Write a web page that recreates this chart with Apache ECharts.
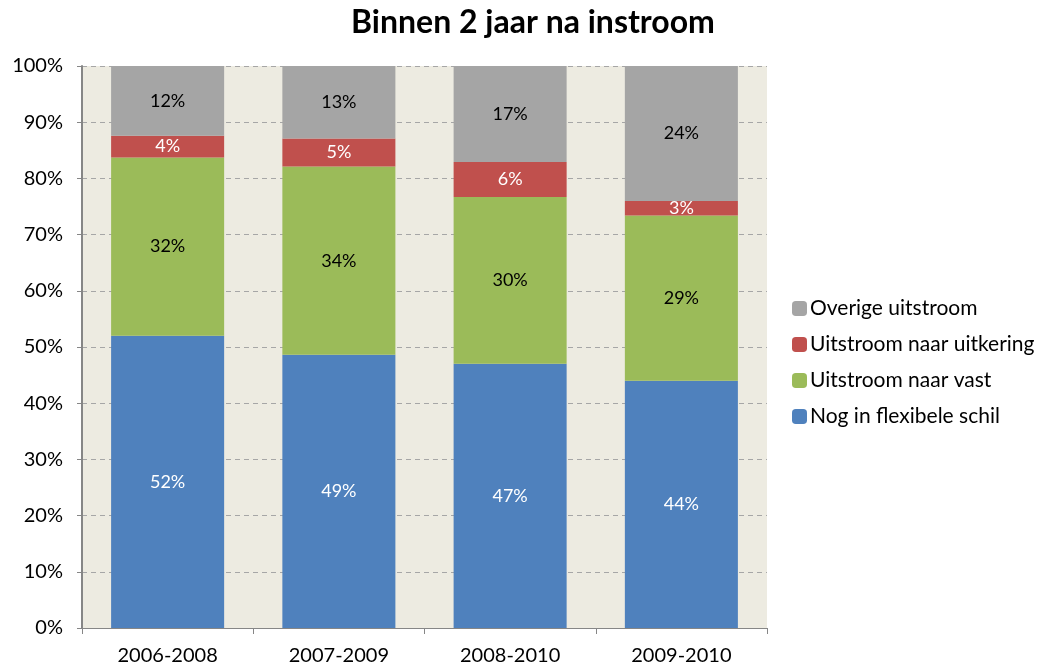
<!DOCTYPE html>
<html>
<head>
<meta charset="utf-8">
<script src="https://cdn.jsdelivr.net/npm/echarts@6/dist/echarts.min.js"></script>
<style>
  html, body { margin: 0; padding: 0; background: #fff; }
  #chart { width: 1042px; height: 668px; }
</style>
</head>
<body>
<div id="chart"></div>
<script>
var categories = ["2006-2008", "2007-2009", "2008-2010", "2009-2010"];
var flexibeleSchil = [52.0, 48.6, 47.0, 44.0];
var naarVast = [31.7, 33.5, 29.7, 29.4];
var naarUitkering = [3.9, 5.0, 6.2, 2.6];
var overige = [12.4, 12.9, 17.1, 24.0];
var yTicks = [0, 10, 20, 30, 40, 50, 60, 70, 80, 90, 100];

var font = "Lato, 'Open Sans', sans-serif";

function makeSeries(name, data, color, labelColor) {
  return {
    name: name,
    type: 'bar',
    stack: 'total',
    barWidth: '66%',
    data: data,
    itemStyle: { color: color },
    label: {
      show: true,
      position: 'inside',
      color: labelColor,
      fontFamily: font,
      fontSize: 18,
      formatter: function (p) { return Math.round(p.value) + '%'; }
    }
  };
}

var chart = echarts.init(document.getElementById('chart'));
chart.setOption({
  animation: false,
  title: {
    text: 'Binnen 2 jaar na instroom',
    left: 528,
    textAlign: 'center',
    top: 2,
    textStyle: { fontFamily: font, fontSize: 32, fontWeight: 'bold', color: '#000' }
  },
  legend: {
    orient: 'vertical',
    left: 787,
    top: 293,
    itemWidth: 15,
    itemHeight: 15,
    itemGap: 15,
    data: ['Overige uitstroom', 'Uitstroom naar uitkering', 'Uitstroom naar vast', 'Nog in flexibele schil'],
    textStyle: { fontFamily: font, fontSize: 21, color: '#000', padding: [0, 0, 0, -2] }
  },
  grid: {
    left: 82, right: 275, top: 66, bottom: 40,
    show: true, backgroundColor: '#EDEBE1', borderWidth: 0
  },
  xAxis: {
    type: 'category',
    data: categories,
    axisLine: { lineStyle: { color: '#868686', width: 1 } },
    axisTick: { show: true, length: 6, lineStyle: { color: '#868686' } },
    axisLabel: { fontFamily: font, fontSize: 20, color: '#000', margin: 18 }
  },
  yAxis: {
    type: 'value',
    min: 0,
    max: 100,
    interval: 10,
    axisLine: { show: true, lineStyle: { color: '#868686', width: 2 } },
    axisTick: { show: true, length: 5, lineStyle: { color: '#868686' } },
    axisLabel: {
      fontFamily: font, fontSize: 20, color: '#000', margin: 19,
      formatter: function (v) { return yTicks.indexOf(v) >= 0 ? v + '%' : ''; }
    },
    splitLine: { show: true, lineStyle: { color: '#A6A6A6', type: [5, 4], width: 1 } }
  },
  series: [
    makeSeries('Nog in flexibele schil', flexibeleSchil, '#4F81BD', '#fff'),
    makeSeries('Uitstroom naar vast', naarVast, '#9BBB59', '#000'),
    makeSeries('Uitstroom naar uitkering', naarUitkering, '#C0504D', '#fff'),
    makeSeries('Overige uitstroom', overige, '#A5A5A5', '#000')
  ]
});
</script>
</body>
</html>
